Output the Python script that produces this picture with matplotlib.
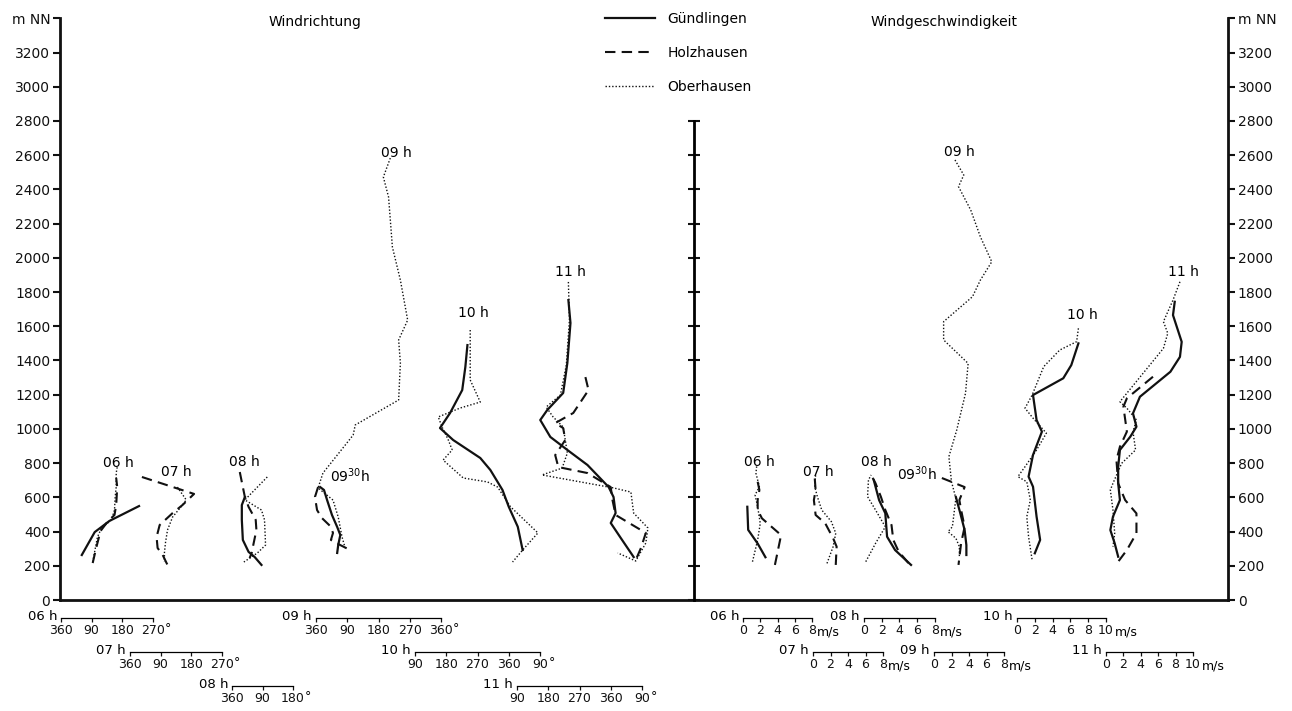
import matplotlib
matplotlib.use("Agg")
import matplotlib.pyplot as plt
from matplotlib.lines import Line2D

# ---------------- data ----------------
# Windrichtung (Grad) gegen Höhe (m NN)
wd06_G_h = [263, 397, 427, 462, 549]
wd06_G = [61, 99, 119, 142, 229]
wd06_H_h = [216, 310, 403, 456, 497, 555, 660, 713]
wd06_H = [93, 104, 116, 136, 157, 162, 165, 162]
wd06_O_h = [222, 368, 421, 468, 526, 602, 660, 742, 777]
wd06_O = [93, 107, 119, 148, 157, 159, 162, 162, 165]

wd07_H_h = [719, 620, 555, 508, 438, 368, 304, 263, 205]
wd07_H = [35, 188, 154, 125, 87, 78, 81, 96, 110]
wd07_O_h = [660, 585, 555, 485, 409, 333, 275, 222]
wd07_O = [139, 165, 154, 125, 110, 104, 101, 101]

wd08_G_h = [602, 555, 468, 351, 281, 251, 205]
wd08_G = [38, 29, 29, 32, 49, 67, 87]
wd08_H_h = [748, 602, 544, 468, 409, 333, 275, 245]
wd08_H = [23, 38, 49, 70, 72, 64, 58, 52]
wd08_O_h = [719, 585, 526, 468, 321, 275, 222]
wd08_O = [104, 38, 87, 96, 99, 75, 35]

wd09_O_h = [2583, 2472, 2355, 2063, 1870, 1636, 1520, 1385, 1169, 1023, 964,
            742, 655, 584, 485, 368, 304]
wd09_O = [214, 194, 209, 220, 243, 264, 238, 243, 238, 113, 107,
          20, 6, 49, 64, 75, 84]
wd0930_G_h = [660, 643, 584, 497, 427, 380, 321, 275]
wd0930_G = [12, 23, 32, 46, 61, 70, 64, 61]
wd0930_H_h = [660, 602, 526, 479, 432, 392, 351, 321, 286]
wd0930_H = [6, 357, 3, 17, 41, 49, 43, 70, 104]

wd10_G_h = [1490, 1362, 1227, 1093, 1005, 935, 830, 760, 643, 545, 428, 292]
wd10_G = [241, 235, 226, 191, 162, 200, 278, 307, 342, 0, 26, 40]
wd10_O_h = [1578, 1286, 1157, 1122, 1070, 1011, 935, 877, 818, 713, 690, 660,
            545, 392, 292, 222]
wd10_O = [249, 249, 278, 220, 157, 168, 186, 197, 171, 229, 299, 328,
          5, 84, 40, 11]

wd11_G_h = [1753, 1619, 1385, 1210, 1110, 1052, 953, 877, 789, 660, 602, 508,
            450, 362, 251]
wd11_G = [238, 244, 235, 223, 177, 157, 186, 235, 293, 354, 8, 14, 0, 29, 66]
wd11_H_h = [1303, 1227, 1093, 1034, 1005, 935, 847, 777, 742, 660, 584, 497,
            392, 304, 234]
wd11_H = [287, 296, 252, 200, 223, 229, 200, 209, 293, 0, 5, 14, 101, 87, 72]
wd11_O_h = [1859, 1636, 1373, 1198, 1128, 1070, 1011, 935, 859, 771, 731, 655,
            631, 508, 421, 333, 228, 275]
wd11_O = [238, 241, 232, 215, 174, 194, 223, 229, 235, 220, 162, 8,
          58, 66, 107, 101, 72, 20]

# Windgeschwindigkeit (m/s) gegen Höhe (m NN)
ws06_G_h = [250, 330, 410, 545]
ws06_G = [2.6, 1.7, 0.6, 0.5]
ws06_H_h = [205, 351, 380, 477, 526, 584, 643, 691]
ws06_H = [3.7, 4.3, 4.4, 2.2, 1.7, 1.7, 1.9, 1.7]
ws06_O_h = [224, 351, 448, 545, 614, 662, 741, 789]
ws06_O = [1.1, 1.7, 2.0, 1.7, 1.4, 1.9, 1.5, 1.6]

ws07_H_h = [205, 312, 361, 448, 497, 584, 643, 711]
ws07_H = [2.6, 2.7, 2.3, 1.4, 0.3, 0.1, 0.3, 0.2]
ws07_O_h = [214, 312, 390, 458, 526, 604, 662, 731]
ws07_O = [1.6, 2.3, 2.6, 2.1, 1.0, 0.5, 0.2, 0.3]

ws08_G_h = [205, 292, 370, 507, 584, 701]
ws08_G = [5.3, 3.5, 2.6, 2.4, 1.7, 1.1]
ws08_H_h = [216, 284, 351, 438, 526, 604, 682, 731]
ws08_H = [5.0, 3.9, 3.3, 3.1, 2.4, 1.9, 1.3, 0.8]
ws08_O_h = [224, 331, 428, 526, 604, 701, 731]
ws08_O = [0.2, 1.3, 2.4, 1.3, 0.4, 0.5, 0.8]

ws09_O_h = [2572, 2484, 2416, 2279, 2123, 1977, 1870, 1773, 1627, 1520, 1383,
            1208, 994, 838, 691, 594, 428, 399, 361, 312, 253]
ws09_O = [2.4, 3.4, 2.8, 4.2, 5.3, 6.6, 5.3, 4.4, 1.1, 1.1, 3.9,
          3.6, 2.6, 1.7, 2.0, 2.5, 2.1, 1.6, 2.5, 2.9, 2.9]
ws0930_G_h = [602, 508, 409, 321, 263]
ws0930_G = [2.5, 3.0, 3.5, 3.7, 3.7]
ws0930_H_h = [713, 660, 584, 526, 427, 333, 205]
ws0930_H = [0.9, 3.5, 2.9, 3.1, 3.5, 3.1, 2.8]

ws10_G_h = [1500, 1373, 1296, 1198, 1052, 984, 848, 721, 662, 487, 351, 273]
ws10_G = [6.9, 6.1, 5.2, 1.8, 2.2, 2.8, 1.8, 1.3, 1.8, 2.2, 2.6, 2.0]
ws10_O_h = [1588, 1510, 1461, 1364, 1198, 1121, 1063, 975, 877, 779, 721, 691,
            584, 487, 370, 234]
ws10_O = [6.9, 6.7, 4.8, 3.0, 1.7, 0.9, 1.8, 3.3, 2.2, 0.9, 0.1, 1.1,
          1.5, 1.1, 1.3, 1.7]

ws11_G_h = [1743, 1665, 1509, 1421, 1334, 1188, 1091, 1013, 955, 877, 779, 682,
            584, 487, 409, 331, 253]
ws11_G = [7.9, 7.7, 8.7, 8.5, 7.4, 3.9, 3.1, 3.5, 2.8, 1.6, 1.4, 1.4,
          1.6, 0.8, 0.5, 1.0, 1.4]
ws11_H_h = [1305, 1179, 1130, 984, 896, 818, 682, 584, 506, 390, 292, 224]
ws11_H = [5.4, 2.4, 2.0, 2.4, 1.6, 1.2, 1.4, 2.2, 3.5, 3.5, 2.4, 1.4]
ws11_O_h = [1860, 1753, 1627, 1559, 1471, 1159, 1121, 1052, 984, 877, 799, 682,
            643, 526, 390, 312]
ws11_O = [8.5, 7.7, 6.6, 7.1, 6.6, 1.6, 2.4, 3.5, 3.1, 3.4, 1.8, 0.8,
          0.5, 0.8, 1.0, 0.8]

stations = ["Gündlingen", "Holzhausen", "Oberhausen"]
height_ticks = list(range(0, 3201, 200))

# ---------------- styles / layout ----------------
plt.rcParams["font.family"] = ["DejaVu Sans"]
plt.rcParams["font.size"] = 10
INK = "#111111"
style = {
    "G": dict(ls="-", lw=1.6),
    "H": dict(ls=(0, (5, 3)), lw=1.5),
    "O": dict(ls=(0, (1, 1.4)), lw=1.0),
}

W, H = 1292, 711
fig = plt.figure(figsize=(W / 100, H / 100), dpi=100)
Y0, YTOP = 600, 18.3   # pixel rows for 0 m and 3400 m
HMAX = 3400
ROW_Y = {1: 618, 2: 652, 3: 686}
SC_FS = 9


def fx(x):
    return x / W


def fy(y):
    return 1 - y / H


def rect(x0, x1):
    return [x0 / W, (H - Y0) / H, (x1 - x0) / W, (Y0 - YTOP) / H]


# main frame
main = fig.add_axes(rect(60, 1228))
main.set_ylim(0, HMAX)
main.set_xlim(0, 1)
main.spines["top"].set_visible(False)
for s in ("left", "right", "bottom"):
    main.spines[s].set_linewidth(2.0)
    main.spines[s].set_color(INK)
main.set_xticks([])
main.set_yticks(height_ticks + [HMAX])
main.set_yticklabels([str(t) for t in height_ticks] + ["m NN"])
main.tick_params(axis="y", which="both", left=True, right=True,
                 labelleft=True, labelright=True, direction="out",
                 length=5, width=1.5, colors=INK, labelsize=10, pad=2)

# middle axis
mid = fig.add_axes(rect(694, 695))
mid.set_ylim(0, HMAX)
mid.patch.set_visible(False)
for s in ("top", "right", "bottom"):
    mid.spines[s].set_visible(False)
mid.spines["left"].set_bounds(0, 2800)
mid.spines["left"].set_linewidth(2.0)
mid.set_xticks([])
mid.set_yticks(list(range(0, 2801, 200)))
mid.tick_params(axis="y", direction="inout", length=9, width=1.5,
                labelleft=False, colors=INK)


def scale_axes(x0, x1, row, lo, hi, ticks, labels, tlabel, suffix, sdx, sdy):
    ax = fig.add_axes(rect(x0, x1))
    ax.set_ylim(0, HMAX)
    ax.set_xlim(lo, hi)
    ax.patch.set_visible(False)
    for s in ("top", "right", "left"):
        ax.spines[s].set_visible(False)
    ax.spines["bottom"].set_position(("outward", (ROW_Y[row] - Y0) * 0.72))
    ax.spines["bottom"].set_linewidth(0.9)
    ax.set_yticks([])
    ax.set_xticks(ticks)
    ax.set_xticklabels(labels)
    ax.tick_params(axis="x", direction="out", length=3, width=0.9,
                   labelsize=SC_FS, pad=1.5, colors=INK)
    fig.text(fx(x0 - 4), fy(ROW_Y[row] - 1), tlabel, ha="right",
             va="center", fontsize=9.5)
    fig.text(fx(x1 + sdx), fy(ROW_Y[row] + sdy), suffix, ha="left",
             va="center", fontsize=SC_FS)
    return ax


def draw(ax, h, v, key, wrap_lo=None):
    if wrap_lo is not None:
        v = [wrap_lo + ((d - wrap_lo) % 360) for d in v]
    ax.plot(v, h, color=INK, clip_on=False, dash_capstyle="butt",
            **style[key])


# ---- Windrichtung ----
dir_lab = ["360", "90", "180", "270", "360"]
lab10 = ["90", "180", "270", "360", "90"]
ax06 = scale_axes(61, 153, 1, 0, 270, [0, 90, 180, 270], dir_lab[:4], "06 h", "°", 12, 11)
ax07 = scale_axes(130, 222, 2, 0, 270, [0, 90, 180, 270], dir_lab[:4], "07 h", "°", 12, 11)
ax08 = scale_axes(232, 293, 3, 0, 180, [0, 90, 180], dir_lab[:3], "08 h", "°", 12, 11)
ax09 = scale_axes(316, 441, 1, 0, 360, [0, 90, 180, 270, 360], dir_lab, "09 h", "°", 12, 11)
ax10 = scale_axes(415, 540, 2, 90, 450, [90, 180, 270, 360, 450], lab10, "10 h", "°", 9, 11)
ax11 = scale_axes(517, 642, 3, 90, 450, [90, 180, 270, 360, 450], lab10, "11 h", "°", 9, 11)

draw(ax06, wd06_G_h, wd06_G, "G", -30)
draw(ax06, wd06_H_h, wd06_H, "H", -30)
draw(ax06, wd06_O_h, wd06_O, "O", -30)
draw(ax07, wd07_H_h, wd07_H, "H", -30)
draw(ax07, wd07_O_h, wd07_O, "O", -30)
draw(ax08, wd08_G_h, wd08_G, "G", -30)
draw(ax08, wd08_H_h, wd08_H, "H", -30)
draw(ax08, wd08_O_h, wd08_O, "O", -30)
draw(ax09, wd09_O_h, wd09_O, "O", -30)
draw(ax09, wd0930_G_h, wd0930_G, "G", -30)
draw(ax09, wd0930_H_h, wd0930_H, "H", -30)
draw(ax10, wd10_G_h, wd10_G, "G", 130)
draw(ax10, wd10_O_h, wd10_O, "O", 130)
draw(ax11, wd11_G_h, wd11_G, "G", 150)
draw(ax11, wd11_H_h, wd11_H, "H", 150)
draw(ax11, wd11_O_h, wd11_O, "O", 150)

# ---- Windgeschwindigkeit ----
sp8 = [0, 2, 4, 6, 8]
sp10 = [0, 2, 4, 6, 8, 10]
l8 = [str(t) for t in sp8]
l10 = [str(t) for t in sp10]
bx06 = scale_axes(743, 812, 1, 0, 8, sp8, l8, "06 h", "m/s", 5, 14)
bx07 = scale_axes(813, 883, 2, 0, 8, sp8, l8, "07 h", "m/s", 5, 14)
bx08 = scale_axes(864, 935, 1, 0, 8, sp8, l8, "08 h", "m/s", 5, 14)
bx09 = scale_axes(934, 1004, 2, 0, 8, sp8, l8, "09 h", "m/s", 5, 14)
bx10 = scale_axes(1017, 1106, 1, 0, 10, sp10, l10, "10 h", "m/s", 9, 14)
bx11 = scale_axes(1106, 1193, 2, 0, 10, sp10, l10, "11 h", "m/s", 9, 14)

draw(bx06, ws06_G_h, ws06_G, "G")
draw(bx06, ws06_H_h, ws06_H, "H")
draw(bx06, ws06_O_h, ws06_O, "O")
draw(bx07, ws07_H_h, ws07_H, "H")
draw(bx07, ws07_O_h, ws07_O, "O")
draw(bx08, ws08_G_h, ws08_G, "G")
draw(bx08, ws08_H_h, ws08_H, "H")
draw(bx08, ws08_O_h, ws08_O, "O")
draw(bx09, ws09_O_h, ws09_O, "O")
draw(bx09, ws0930_G_h, ws0930_G, "G")
draw(bx09, ws0930_H_h, ws0930_H, "H")
draw(bx10, ws10_G_h, ws10_G, "G")
draw(bx10, ws10_O_h, ws10_O, "O")
draw(bx11, ws11_G_h, ws11_G, "G")
draw(bx11, ws11_H_h, ws11_H, "H")
draw(bx11, ws11_O_h, ws11_O, "O")

# profile time labels
t930 = r"09$^{30}$h"
for txt, x, y in [("06 h", 118, 463), ("07 h", 176, 472), ("08 h", 244, 462),
                  (t930, 350, 476), ("09 h", 396, 153), ("10 h", 473, 313),
                  ("11 h", 570, 272),
                  ("06 h", 759, 462), ("07 h", 818, 472), ("08 h", 876, 462),
                  (t930, 917, 474), ("09 h", 959, 152), ("10 h", 1082, 315),
                  ("11 h", 1183, 272)]:
    fig.text(fx(x), fy(y), txt, ha="center", va="center", fontsize=10)

# titles
fig.text(fx(315), fy(22), "Windrichtung", ha="center", va="center", fontsize=10)
fig.text(fx(944), fy(22), "Windgeschwindigkeit", ha="center", va="center", fontsize=10)

# legend
handles = [Line2D([], [], color=INK, **style[k]) for k in ("G", "H", "O")]
fig.legend(handles, stations, loc="upper left",
           bbox_to_anchor=(fx(602), fy(9)), frameon=False,
           handlelength=3.6, handletextpad=0.9, labelspacing=1.45,
           fontsize=10, borderaxespad=0, borderpad=0.2)

fig.savefig("out.png", dpi=100)
